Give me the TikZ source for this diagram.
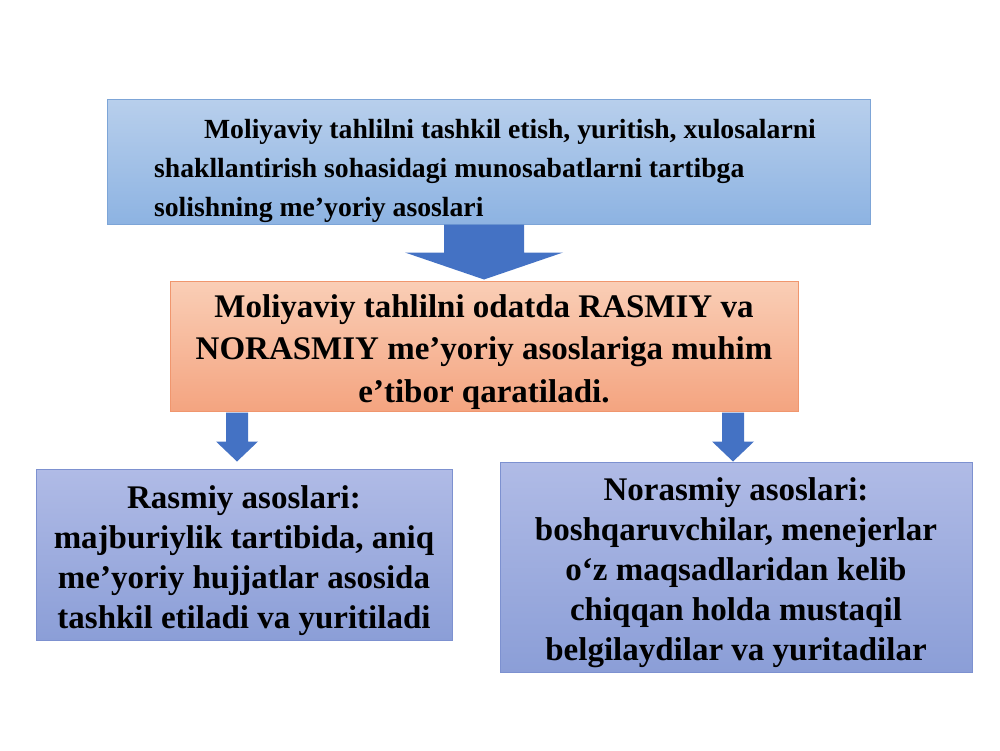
\documentclass[tikz,border=0pt]{standalone}
\usepackage{fontspec}
\setmainfont{Liberation Serif}
\usetikzlibrary{calc}

\definecolor{ustA}{RGB}{184,207,236}
\definecolor{ustB}{RGB}{141,179,226}
\definecolor{ustChiziq}{RGB}{125,165,215}
\definecolor{ortaA}{RGB}{250,206,182}
\definecolor{ortaB}{RGB}{244,164,128}
\definecolor{ortaChiziq}{RGB}{240,150,110}
\definecolor{pastA}{RGB}{176,187,230}
\definecolor{pastB}{RGB}{139,158,215}
\definecolor{pastChiziq}{RGB}{125,145,208}
\definecolor{strelka}{RGB}{68,114,196}

% birinchi qatorni pastga suradi
\newcommand{\tepa}[1][1.05em]{\rule{0pt}{#1}}

% blok strelka: boshi, dasta yarimi, uch yarimi, dasta uzunligi, uch uzunligi
\newcommand{\blokstrelka}[5]{%
  \fill[strelka] ($(#1)+(-#2,0)$) -- ++(0,#4) -- ++({#2-#3},0) -- ++(#3,#5)
    -- ++(#3,-#5) -- ++({#2-#3},0) -- ++(0,-#4) -- cycle;}

\begin{document}
\begin{tikzpicture}[x=0.5pt, y=-0.5pt,
    quti/.style={draw, line width=0.5pt, inner sep=0pt},
    matn/.style={font=\bfseries\fontsize{16.5}{20}\selectfont}]
	\useasboundingbox (0,0) rectangle (1000,750);

	% Yuqori blok
	\node[quti, draw=ustChiziq, top color=ustA, bottom color=ustB,
	      minimum width=381.5pt, minimum height=62.5pt, align=left,
	      font=\bfseries\fontsize{13.85}{19.5}\selectfont] (asos) at (488.5,161.5)
	      {\tepa[1.4em]\hspace*{25pt}Moliyaviy tahlilni tashkil etish, yuritish, xulosalarni\hspace*{3.5pt}\\
	       shakllantirish sohasidagi munosabatlarni tartibga\\
	       solishning me’yoriy asoslari};

	% O'rta blok
	\node[quti, draw=ortaChiziq, top color=ortaA, bottom color=ortaB,
	      minimum width=314pt, minimum height=65pt, align=center,
	      font=\bfseries\fontsize{16.5}{21.25}\selectfont] (odat) at (484,346)
	      {\tepa Moliyaviy tahlilni odatda RASMIY va\\
	       NORASMIY me’yoriy asoslariga muhim\\
	       e’tibor qaratiladi.};

	% Rasmiy asoslar
	\node[quti, matn, draw=pastChiziq, top color=pastA, bottom color=pastB,
	      minimum width=208pt, minimum height=85.5pt, align=center] (rasmiy) at (244,554.5)
	      {\tepa Rasmiy asoslari:\\
	       majburiylik tartibida, aniq\\
	       me’yoriy hujjatlar asosida\\
	       tashkil etiladi va yuritiladi};

	% Norasmiy asoslar
	\node[quti, matn, draw=pastChiziq, top color=pastA, bottom color=pastB,
	      minimum width=236pt, minimum height=105pt, align=center] (norasmiy) at (736,567)
	      {\tepa Norasmiy asoslari:\\
	       boshqaruvchilar, menejerlar\\
	       o‘z maqsadlaridan kelib\\
	       chiqqan holda mustaqil\\
	       belgilaydilar va yuritadilar};

	% Strelkalar
	\coordinate (s1) at (asos.south -| odat.north);
	\coordinate (s2) at ($(odat.south -| rasmiy.north)+(-7,1)$);
	\coordinate (s3) at ($(odat.south -| norasmiy.north)+(-3,1)$);
	\blokstrelka{s1}{40}{79}{28}{27}
	\blokstrelka{s2}{11}{21}{29}{20}
	\blokstrelka{s3}{11}{21}{29}{20}
\end{tikzpicture}
\end{document}
